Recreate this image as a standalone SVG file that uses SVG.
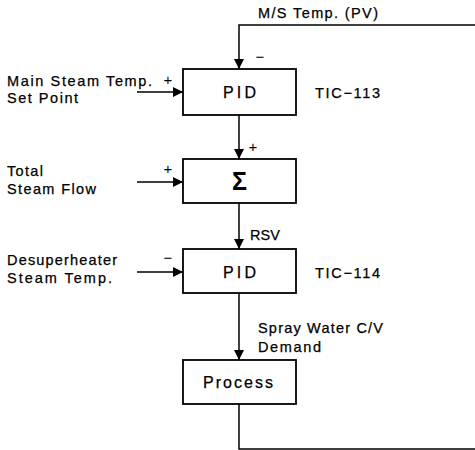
<svg xmlns="http://www.w3.org/2000/svg" width="475" height="450" viewBox="0 0 475 450">
<style>
.box{fill:#fff;stroke:#000;stroke-width:1.8}
.ln{fill:none;stroke:#000;stroke-width:1.5}
.t{font-family:"Liberation Sans",Arial,sans-serif;font-size:14.5px;fill:#000;stroke:#000;stroke-width:0.25}
.b{font-family:"Liberation Sans",Arial,sans-serif;font-size:16px;fill:#000;stroke:#000;stroke-width:0.25;text-anchor:middle}
.s{font-family:"Liberation Sans",Arial,sans-serif;font-size:15px;fill:#000;text-anchor:middle}
</style>
<defs>
<marker id="ah" markerUnits="userSpaceOnUse" markerWidth="10" markerHeight="10" viewBox="0 0 10 10" refX="10" refY="5" orient="auto">
<path d="M0,0 L10,5 L0,10 z" fill="#000"/>
</marker>
</defs>
<rect width="475" height="450" fill="#fff"/>
<g id="connectors">
<path class="ln" d="M475,25 H239 V69" marker-end="url(#ah)"/>
<path class="ln" d="M137,92 H183" marker-end="url(#ah)"/>
<path class="ln" d="M239,115 V159" marker-end="url(#ah)"/>
<path class="ln" d="M137,182 H183" marker-end="url(#ah)"/>
<path class="ln" d="M239,203 V249" marker-end="url(#ah)"/>
<path class="ln" d="M137,272 H183" marker-end="url(#ah)"/>
<path class="ln" d="M239,293 V360" marker-end="url(#ah)"/>
<path class="ln" d="M239,404 V449 H475"/>
<text class="t" x="258" y="18" textLength="120" lengthAdjust="spacing">M/S Temp. (PV)</text>
<text class="s" x="260" y="62">−</text>
<text class="s" x="168" y="85">+</text>
<text class="s" x="253" y="152">+</text>
<text class="s" x="168" y="174">+</text>
<text class="s" x="168" y="263">−</text>
<text class="t" x="250" y="240" textLength="30" lengthAdjust="spacing">RSV</text>
<text class="t" x="258" y="333" textLength="125" lengthAdjust="spacing">Spray Water C/V</text>
<text class="t" x="258" y="352" textLength="63" lengthAdjust="spacing">Demand</text>
</g>
<g id="in-setpoint">
<text class="t" x="7" y="86" textLength="145" lengthAdjust="spacing">Main Steam Temp.</text>
<text class="t" x="7" y="103" textLength="71" lengthAdjust="spacing">Set Point</text>
</g>
<g id="pid1">
<rect class="box" x="183" y="69" width="113" height="46"/>
<text class="b" x="239.5" y="98" textLength="33" lengthAdjust="spacing">PID</text>
<text class="t" x="315" y="98" textLength="65" lengthAdjust="spacing">TIC−113</text>
</g>
<g id="in-flow">
<text class="t" x="7" y="176" textLength="36" lengthAdjust="spacing">Total</text>
<text class="t" x="7" y="194" textLength="89" lengthAdjust="spacing">Steam Flow</text>
</g>
<g id="sum">
<rect class="box" x="183" y="159" width="113" height="44"/>
<text x="239.5" y="190" font-family="Liberation Sans,Arial,sans-serif" font-size="25" font-weight="bold" text-anchor="middle">Σ</text>
</g>
<g id="in-desuper">
<text class="t" x="7" y="265" textLength="110" lengthAdjust="spacing">Desuperheater</text>
<text class="t" x="7" y="283" textLength="105" lengthAdjust="spacing">Steam Temp.</text>
</g>
<g id="pid2">
<rect class="box" x="183" y="249" width="113" height="44"/>
<text class="b" x="239.5" y="278" textLength="33" lengthAdjust="spacing">PID</text>
<text class="t" x="315" y="278" textLength="65" lengthAdjust="spacing">TIC−114</text>
</g>
<g id="process">
<rect class="box" x="183" y="360" width="113" height="44"/>
<text class="b" x="238" y="388" textLength="70" lengthAdjust="spacing">Process</text>
</g>
</svg>
